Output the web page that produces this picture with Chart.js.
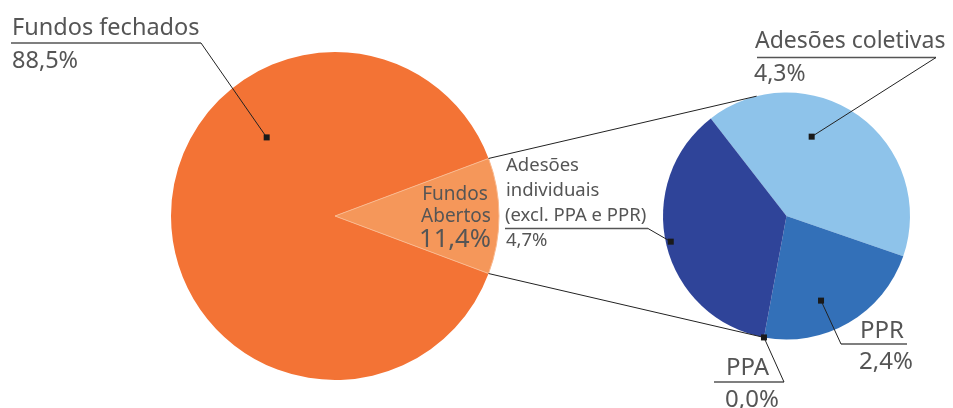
<!DOCTYPE html>
<html lang="pt">
<head>
<meta charset="utf-8">
<script src="https://cdn.jsdelivr.net/npm/chart.js@4.4.1/dist/chart.umd.min.js"></script>
<style>
  html, body { margin: 0; padding: 0; background: #fff; }
  #wrap { position: relative; width: 953px; height: 408px; }
  #wrap canvas { position: absolute; left: 0; top: 0; }
</style>
</head>
<body>
<div id="wrap">
  <canvas id="mainPie" width="953" height="408"></canvas>
  <canvas id="detailPie" width="953" height="408"></canvas>
</div>
<script>
// Main split (% of total)
const mainLabels = ['Fundos fechados', 'Fundos Abertos'];
const mainValues = [88.5, 11.4];
const mainText = ['88,5%', '11,4%'];
const mainColors = ['#f37335', '#f5975a'];

// Breakdown of the open funds wedge.
// Wedge sizes as drawn in the figure (they don't follow the printed labels exactly)
const detailLabels = ['Adesões coletivas', 'PPR', 'PPA', 'Adesões individuais (excl. PPA e PPR)'];
const detailValues = [4.65, 2.58, 0.0, 4.17];
const detailText = ['4,3%', '2,4%', '0,0%', '4,7%'];
const detailColors = ['#8ec3ea', '#3370b8', '#cfe3f5', '#2f4499'];

const TEXT = '#555555';
const FONT = '"Noto Sans", "Open Sans", sans-serif';

let mainChart = null;
let detailChart = null;

/* ------------------ HELPERS ------------------ */
function sum(arr) {
    return arr.reduce((a, b) => a + b, 0);
}

function polar(arc, deg, frac) {
    const a = deg * Math.PI / 180;
    return {
        x: arc.x + Math.cos(a) * arc.outerRadius * frac,
        y: arc.y + Math.sin(a) * arc.outerRadius * frac
    };
}

function rimAt(arc, rad) {
    return { x: arc.x + Math.cos(rad) * arc.outerRadius, y: arc.y + Math.sin(rad) * arc.outerRadius };
}

function text(ctx, str, x, y, size, align) {
    ctx.font = `${size}px ${FONT}`;
    ctx.fillStyle = TEXT;
    ctx.textAlign = align || 'left';
    ctx.textBaseline = 'alphabetic';
    ctx.fillText(str, x, y);
}

function line(ctx, pts, color, width) {
    ctx.beginPath();
    ctx.moveTo(pts[0].x, pts[0].y);
    for (let i = 1; i < pts.length; i++) ctx.lineTo(pts[i].x, pts[i].y);
    ctx.strokeStyle = color;
    ctx.lineWidth = width;
    ctx.stroke();
}

function dot(ctx, p) {
    ctx.fillStyle = '#1a1a1a';
    ctx.fillRect(p.x - 3, p.y - 3, 6, 6);
}

function underline(ctx, x1, x2, y) {
    line(ctx, [{ x: x1, y: y }, { x: x2, y: y }], '#555', 1.5);
}

/* ------------------ LABELS + CONNECTORS ------------------ */
const annotations = {
    id: 'annotations',
    afterDraw(chart) {
        const ctx = chart.ctx;
        const mainArcs = mainChart.getDatasetMeta(0).data;
        const arcs = chart.getDatasetMeta(0).data;
        const fechado = mainArcs[0];
        const aberto = mainArcs[1];
        ctx.save();

        // connectors from the open funds wedge to the detail pie
        const topStart = rimAt(aberto, aberto.startAngle);
        const botStart = rimAt(aberto, aberto.endAngle);
        const ppaDot = rimAt(arcs[2], arcs[2].startAngle);
        line(ctx, [topStart, polar(arcs[0], -104, 1)], '#222', 1);
        line(ctx, [botStart, ppaDot], '#222', 1);

        // Fundos fechados
        const dF = polar(fechado, -131, 0.635);
        text(ctx, mainLabels[0], 12, 35, 23.5);
        underline(ctx, 11, 201, 43);
        line(ctx, [{ x: 201, y: 43 }, dF], '#222', 1);
        dot(ctx, dF);
        text(ctx, mainText[0], 12, 68, 23.5);

        // Fundos Abertos (inside wedge)
        text(ctx, 'Fundos', 455, 200, 19, 'center');
        text(ctx, 'Abertos', 456, 222, 19, 'center');
        text(ctx, mainText[1], 455, 247, 25.5, 'center');

        // Adesões coletivas
        const dC = polar(arcs[0], -72.4, 0.674);
        text(ctx, detailLabels[0], 755, 48, 23);
        underline(ctx, 757, 936, 57.5);
        line(ctx, [{ x: 936, y: 57.5 }, dC], '#222', 1);
        dot(ctx, dC);
        text(ctx, detailText[0], 754, 81, 23);

        // Adesões individuais
        const dI = polar(arcs[3], 167.5, 0.96);
        text(ctx, 'Adesões', 506, 171, 18.5);
        text(ctx, 'individuais', 506, 196, 18.5);
        text(ctx, '(excl. PPA e PPR)', 505, 221, 18.5);
        underline(ctx, 505, 648, 228.5);
        line(ctx, [{ x: 648, y: 228.5 }, dI], '#222', 1);
        dot(ctx, dI);
        text(ctx, detailText[3], 506, 246, 18.5);

        // PPR
        const dR = polar(arcs[1], 67.8, 0.74);
        text(ctx, detailLabels[1], 860, 338, 24);
        underline(ctx, 841, 907, 344);
        line(ctx, [dR, { x: 841, y: 344 }], '#222', 1);
        dot(ctx, dR);
        text(ctx, detailText[1], 859, 369, 24);

        // PPA
        text(ctx, detailLabels[2], 726, 375, 24);
        underline(ctx, 714, 784, 382);
        line(ctx, [ppaDot, { x: 784, y: 382 }], '#222', 1);
        dot(ctx, ppaDot);
        text(ctx, detailText[2], 725, 407, 24);

        ctx.restore();
    }
};

/* ------------------ CHARTS ------------------ */
const commonOptions = {
    responsive: false,
    animation: false,
    events: [],
    plugins: {
        legend: { display: false },
        tooltip: { enabled: false }
    }
};

// open funds wedge centred on 3 o'clock
const abertoDeg = mainValues[1] / sum(mainValues) * 360;

mainChart = new Chart(document.getElementById('mainPie'), {
    type: 'pie',
    data: {
        labels: mainLabels,
        datasets: [{
            data: mainValues,
            backgroundColor: mainColors,
            borderColor: '#f9b88e',
            borderWidth: [0, 1]
        }]
    },
    options: {
        ...commonOptions,
        rotation: 90 + abertoDeg / 2,
        radius: 164,
        layout: { padding: { left: 171, right: 454, top: 52, bottom: 28 } }
    }
});

detailChart = new Chart(document.getElementById('detailPie'), {
    type: 'pie',
    data: {
        labels: detailLabels,
        datasets: [{
            data: detailValues,
            backgroundColor: detailColors,
            borderColor: '#cfe3f5',
            borderWidth: [0, 0, 1, 0]
        }]
    },
    options: {
        ...commonOptions,
        rotation: -37.8,
        radius: 123.5,
        layout: { padding: { left: 663, right: 43, top: 92.5, bottom: 68.5 } }
    },
    plugins: [annotations]
});
</script>
</body>
</html>
